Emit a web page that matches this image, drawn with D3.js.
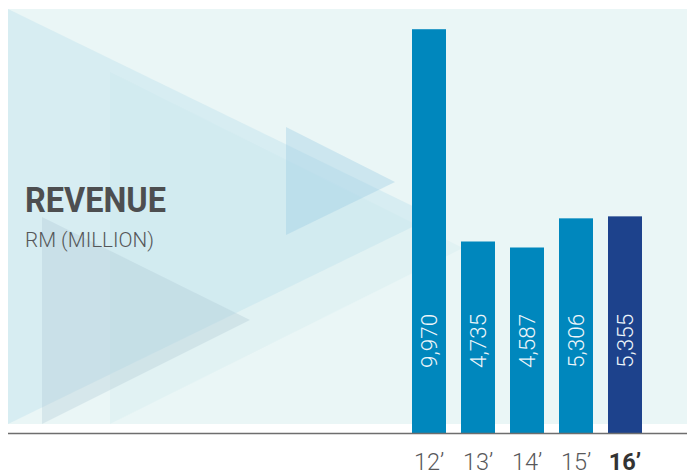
<!DOCTYPE html>
<html>
<head>
<meta charset="utf-8">
<script src="https://cdn.jsdelivr.net/npm/d3@7/dist/d3.min.js"></script>
<style>
  html, body { margin: 0; padding: 0; background: #ffffff; }
  svg { display: block; }
</style>
</head>
<body>
<svg id="chart" width="687" height="475"></svg>
<script>
// Revenue by financial year, RM million
const years = ["12’", "13’", "14’", "15’", "16’"];
const revenue = [9970, 4735, 4587, 5306, 5355];
const highlightYear = "16’";

const title = "REVENUE";
const subtitle = "RM (MILLION)";

const svg = d3.select("#chart");

// background panel
const panel = { x: 8, y: 9, w: 679, h: 415 };
const baseY = 433.5;

const defs = svg.append("defs");
defs.append("clipPath").attr("id", "panelClip")
  .append("rect").attr("x", panel.x).attr("y", panel.y)
  .attr("width", panel.w).attr("height", panel.h);

svg.append("rect")
  .attr("x", panel.x).attr("y", panel.y)
  .attr("width", panel.w).attr("height", panel.h)
  .attr("fill", "#eaf6f6");

// decorative "play" triangles in the backdrop
const deco = svg.append("g").attr("clip-path", "url(#panelClip)");
const tris = [
  { pts: [[8, 9], [8, 424], [434, 216.5]], fill: "rgb(180,220,235)", op: 0.35 },
  { pts: [[110, 72], [110, 424], [463, 248]], fill: "rgb(190,225,235)", op: 0.18 },
  { pts: [[286, 127], [286, 235], [395, 182]], fill: "rgb(150,200,225)", op: 0.35 },
  { pts: [[42, 217], [42, 424], [250, 320]], fill: "rgb(170,195,210)", op: 0.30 }
];
deco.selectAll("path").data(tris).join("path")
  .attr("d", d => d3.line()(d.pts) + "Z")
  .attr("fill", d => d.fill)
  .attr("fill-opacity", d => d.op);

// titles
svg.append("text")
  .attr("x", 25).attr("y", 212)
  .attr("font-family", "Roboto, 'Liberation Sans', sans-serif")
  .attr("font-weight", 700)
  .attr("font-size", 35)
  .attr("textLength", 141)
  .attr("lengthAdjust", "spacingAndGlyphs")
  .attr("fill", "#4d4e50")
  .text(title);

svg.append("text")
  .attr("x", 25).attr("y", 247)
  .attr("font-family", "Roboto, 'Liberation Sans', sans-serif")
  .attr("font-weight", 300)
  .attr("font-size", 19.5)
  .attr("textLength", 129)
  .attr("lengthAdjust", "spacingAndGlyphs")
  .attr("fill", "#555759")
  .text(subtitle);

// scales
const x = d3.scaleBand()
  .domain(years)
  .range([412, 642])
  .paddingInner(15 / 49)
  .paddingOuter(0);

const y = d3.scaleLinear()
  .domain([0, 10000])
  .range([baseY, 28]);

const data = years.map((yr, i) => ({ year: yr, value: revenue[i] }));

// bars
svg.append("g").selectAll("rect").data(data).join("rect")
  .attr("x", d => x(d.year))
  .attr("width", x.bandwidth())
  .attr("y", d => y(d.value))
  .attr("height", d => y(0) - y(d.value))
  .attr("fill", d => d.year === highlightYear ? "#1d428c" : "#0087bd");

// value labels, rotated inside bars
const fmt = d3.format(",");
svg.append("g").selectAll("text").data(data).join("text")
  .attr("transform", d => `translate(${x(d.year) + x.bandwidth() / 2 + 8},368) rotate(-90)`)
  .attr("font-family", "Roboto, 'Liberation Sans', sans-serif")
  .attr("font-weight", 300)
  .attr("font-size", 22.5)
  .attr("fill", "#eef6fa")
  .text(d => fmt(d.value));

// baseline
svg.append("line")
  .attr("x1", 8).attr("x2", 687)
  .attr("y1", baseY).attr("y2", baseY)
  .attr("stroke", "#6e6e6e")
  .attr("stroke-width", 1.6);

// category axis
const xAxis = svg.append("g")
  .attr("transform", `translate(0,${baseY})`)
  .call(d3.axisBottom(x).tickSize(0).tickPadding(20));
xAxis.select(".domain").remove();
xAxis.selectAll("text")
  .attr("font-family", "Roboto, 'Liberation Sans', sans-serif")
  .attr("font-size", 23.5)
  .attr("dy", "0.71em")
  .attr("font-weight", d => d === highlightYear ? 700 : 300)
  .attr("fill", d => d === highlightYear ? "#333333" : "#58595b");
</script>
</body>
</html>
